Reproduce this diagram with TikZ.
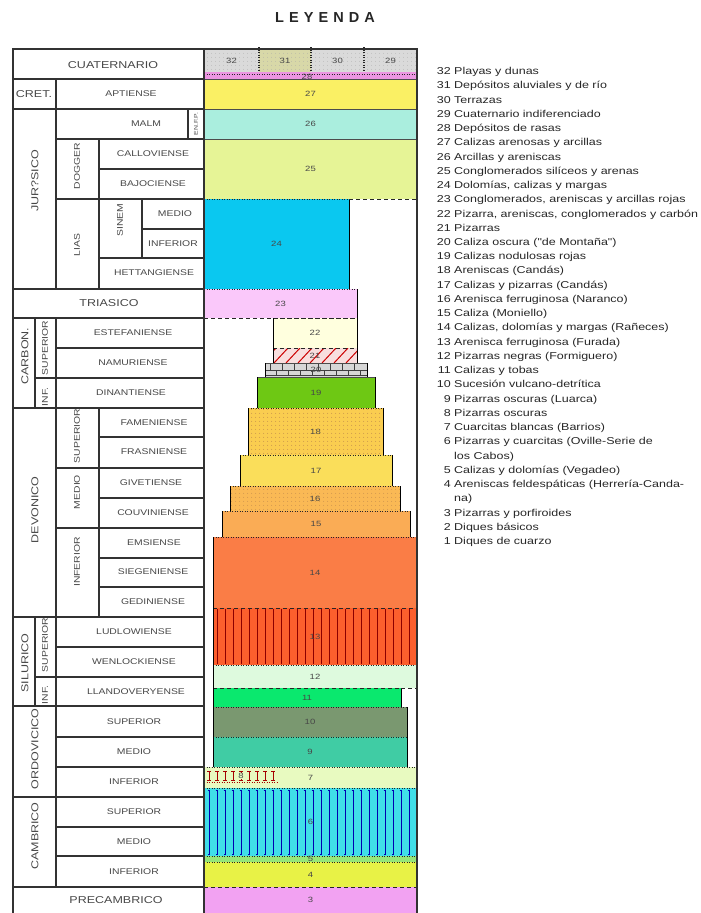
\documentclass[tikz,border=0pt]{standalone}
\usepackage{fontspec}
\setmainfont{Liberation Sans}
\newfontfamily\wideSans[FakeStretch=1.25]{Liberation Sans}
\newfontfamily\titleSans[LetterSpace=35]{Liberation Sans}
\usetikzlibrary{patterns.meta}

\definecolor{gridGray}{RGB}{50,50,50}
\definecolor{c32}{RGB}{218,218,218}
\definecolor{c31}{RGB}{216,216,168}
\definecolor{c28}{RGB}{236,150,226}
\definecolor{c27}{RGB}{250,240,100}
\definecolor{c26}{RGB}{170,238,222}
\definecolor{c25}{RGB}{230,244,150}
\definecolor{c24}{RGB}{10,200,240}
\definecolor{c23}{RGB}{250,200,250}
\definecolor{c22}{RGB}{255,255,222}
\definecolor{c21}{RGB}{248,222,222}
\definecolor{c20}{RGB}{215,215,215}
\definecolor{c19}{RGB}{110,200,20}
\definecolor{c18}{RGB}{250,205,80}
\definecolor{c17}{RGB}{250,222,90}
\definecolor{c16}{RGB}{250,185,85}
\definecolor{c15}{RGB}{250,172,85}
\definecolor{c14}{RGB}{250,125,70}
\definecolor{c13}{RGB}{252,95,45}
\definecolor{c12}{RGB}{222,250,222}
\definecolor{c11}{RGB}{10,232,110}
\definecolor{c10}{RGB}{122,152,112}
\definecolor{c9}{RGB}{64,204,164}
\definecolor{c7}{RGB}{232,250,192}
\definecolor{c6}{RGB}{64,222,232}
\definecolor{c5}{RGB}{150,230,120}
\definecolor{c4}{RGB}{232,242,70}
\definecolor{c3}{RGB}{242,162,242}

%% unit/left/right/top/bottom/top line
\def\unitList{27/204/417/79/109/solidEdge, 26/204/417/109/139/solidEdge,
  25/204/417/139/199/solidEdge, 24/204/349/199/289/dotEdge,
  23/204/357/289/318/dotEdge, 22/273/357/318/348/dashEdge,
  21/273/357/348/363/dashEdge, 20/265/367/363/377/solidEdge,
  19/257/375/377/408/solidEdge, 18/248/383/408/455/dotEdge,
  17/240/392/455/486/dotEdge, 16/230/400/486/511/dotEdge,
  15/222/410/511/537/dotEdge, 14/213/417/537/608/dotEdge,
  13/213/417/608/665/dashEdge, 12/213/417/665/688/dotEdge,
  11/213/401/688/707/dashEdge, 10/213/407/707/737/dotEdge,
  9/213/407/737/767/dotEdge, 7/204/417/767/788/dotEdge,
  6/204/417/788/856/dotEdge, 5/204/417/856/862/dotEdge,
  4/204/417/862/887/dotEdge, 3/204/417/887/913/dashEdge}

\begin{document}
\begin{tikzpicture}
[x=1pt,y=-1pt,
  gridLine/.style={draw=gridGray,line width=1.5pt},
  eraLabel/.style={font=\wideSans\fontsize{10}{12}\selectfont,text=black!72,inner sep=0pt},
  stageLabel/.style={font=\wideSans\fontsize{8.3}{10}\selectfont,text=black!72,inner sep=0pt},
  unitLabel/.style={font=\wideSans\fontsize{7.6}{9}\selectfont,text=black!72,inner sep=0pt},
  unitSide/.style={draw=black,line width=0.8pt},
  dotEdge/.style={draw=black!85,line width=1pt,dash pattern=on 1.2pt off 1.3pt},
  dashEdge/.style={draw=black!85,line width=1pt,dash pattern=on 4pt off 3pt},
  solidEdge/.style={draw=black!70,line width=1pt},
  legendNum/.style={font=\wideSans\fontsize{10}{12}\selectfont,anchor=base east,inner sep=0pt,text=black!85},
  legendText/.style={font=\wideSans\fontsize{10}{12}\selectfont,anchor=base west,inner sep=0pt,text=black!85}]
\useasboundingbox (0,0) rectangle (701,913);

\node[font=\titleSans\bfseries\fontsize{14.5}{16}\selectfont,text=black!85] (title) at (325,18) {LEYENDA};

%% quaternary strip
\foreach \unit/\xa/\xb/\col in {32/204/259/c32, 31/259/311/c31, 30/311/364/c32, 29/364/417/c32}
{
  \fill[\col] (\xa,49) rectangle (\xb,72);
  \fill[pattern={Dots[distance=4pt,radius=0.45pt]},pattern color=black!35] (\xa,49) rectangle (\xb,72);
  \node[unitLabel] (u\unit) at ({(\xa+\xb)/2},61) {\unit};
}
\foreach \x in {259,311,364}
  \draw[dotEdge,line width=1.3pt] (\x,47) -- (\x,74);
\fill[c28] (204,72) rectangle (417,79);
\draw[dotEdge] (204,74) -- (417,74);
\node[unitLabel] (u28) at (307,77) {28};

%% units of the column
\foreach \unit/\xa/\xb/\ya/\yb/\topLine in \unitList
  \fill[c\unit] (\xa,\ya) rectangle (\xb,\yb);

%% textures
\foreach \xa/\xb/\ya/\yb in {248/383/409/454, 230/400/487/510}
  \fill[pattern={Dots[distance=4pt,radius=0.5pt]},pattern color=orange!60!black!70] (\xa,\ya) rectangle (\xb,\yb);
\foreach \x in {217,225,...,413}
  \draw[red!55!black,line width=0.9pt] (\x,609) -- (\x,664);
\foreach \x in {209,217,...,413}
  \draw[blue!70!black,line width=1pt] (\x-1.5,790) -- (\x,790) -- (\x,854) -- (\x-1.5,854);
\begin{scope}
  \clip (273,348) rectangle (357,363);
  \foreach \x in {262,274,...,362}
    \draw[red!80!black,line width=1pt] (\x,363) -- (\x+14,348);
\end{scope}
\draw[black!75,line width=0.7pt] (265,370) -- (367,370) (265,375) -- (367,375);
\foreach \x in {270,282,...,362}
  \draw[black!75,line width=0.7pt] (\x,364) -- (\x,370) (\x+6,370) -- (\x+6,376);
%% unit 8 inside unit 7
\foreach \x in {209,217,...,273}
  \draw[red!65!black,line width=0.8pt] (\x-2,771) -- (\x+2,771) (\x,771) -- (\x,780) (\x-2,780) -- (\x+2,780);
\draw[dotEdge,red!65!black] (204,782) -- (277,782);

%% unit borders
\foreach \unit/\xa/\xb/\ya/\yb/\topLine in \unitList
{
  \draw[\topLine] (\xa,\ya) -- (\xb,\ya);
  \draw[unitSide] (\xa,\ya) -- (\xa,\yb) (\xb,\ya) -- (\xb,\yb);
}
\draw[dashEdge] (204,318) -- (357,318);
\draw[dashEdge] (349,199) -- (417,199);
\draw[dashEdge] (401,688) -- (417,688);

%% unit numbers
\foreach \unit/\xa/\xb/\ya/\yb/\topLine in \unitList
  \node[unitLabel] (u\unit) at ({(\xa+\xb)/2},{(\ya+\yb)/2}) {\unit};
\node[unitLabel,fill=c7,inner sep=0.5pt] (u8) at (241,776) {8};

%% table grid
\foreach \xa/\xb/\y in {13/204/79, 13/204/109, 56/204/139, 99/204/169, 56/204/199,
  142/204/229, 99/204/258, 13/204/289, 13/204/318, 56/204/348, 35/204/378,
  13/204/408, 99/204/437, 56/204/468, 99/204/498, 56/204/528, 99/204/558,
  99/204/587, 13/204/617, 56/204/647, 35/204/677, 13/204/706, 56/204/737,
  56/204/767, 13/204/797, 56/204/827, 56/204/856, 13/204/887}
  \draw[gridLine] (\xa,\y) -- (\xb,\y);
\foreach \x/\ya/\yb in {56/79/289, 56/318/887, 188/109/139, 99/139/289,
  142/199/258, 35/318/408, 99/408/617, 35/617/706}
  \draw[gridLine] (\x,\ya) -- (\x,\yb);
\draw[gridLine] (13,913) -- (13,49) -- (417,49) -- (417,913);
\draw[gridLine] (204,49) -- (204,913);

%% periods
\foreach \name/\x/\y/\txt in {cuat/113/65/CUATERNARIO, cret/34/94/CRET.,
  tria/109/303/TRIASICO, prec/116/900/PRECAMBRICO}
  \node[eraLabel] (\name) at (\x,\y) {\txt};
\foreach \name/\x/\y/\txt in {jura/35/181/JUR?SICO, carb/25/356/CARBON.,
  devo/35/510/DEVONICO, silu/25/663/SILURICO, ordo/35/749/ORDOVICICO,
  camb/35/836/CAMBRICO}
  \node[eraLabel,rotate=90] (\name) at (\x,\y) {\txt};

%% stages
\foreach \name/\x/\y/\txt in {apti/131/94/APTIENSE, malm/146/124/MALM,
  callo/153/154/CALLOVIENSE, bajo/153/184/BAJOCIENSE, liasM/175/214/MEDIO,
  liasI/173/244/INFERIOR, hett/154/273/HETTANGIENSE, este/133/333/ESTEFANIENSE,
  namu/133/363/NAMURIENSE, dina/131/393/DINANTIENSE, fame/154/423/FAMENIENSE,
  fras/154/452/FRASNIENSE, give/151/483/GIVETIENSE, couv/153/513/COUVINIENSE,
  emsi/154/543/EMSIENSE, sieg/153/572/SIEGENIENSE, gedi/153/602/GEDINIENSE,
  ludl/134/632/LUDLOWIENSE, wenl/134/662/WENLOCKIENSE, llan/136/692/LLANDOVERYENSE,
  ordS/134/722/SUPERIOR, ordM/134/752/MEDIO, ordI/134/782/INFERIOR,
  camS/134/812/SUPERIOR, camM/134/842/MEDIO, camI/134/872/INFERIOR}
  \node[stageLabel] (\name) at (\x,\y) {\txt};
\foreach \name/\x/\y/\txt in {dogg/77/166/DOGGER, lias/77/245/LIAS, sinem/120/220/SINEM,
  carS/45/348/SUPERIOR, carI/45/397/INF., devS/77/436/SUPERIOR, devM/77/492/MEDIO,
  devI/77/562/INFERIOR, silS/45/645/SUPERIOR, silI/45/695/INF.}
  \node[stageLabel,rotate=90] (\name) at (\x,\y) {\txt};
\node[stageLabel,rotate=90,font=\wideSans\fontsize{5.5}{6}\selectfont] (enfp) at (196,124) {EN.F.P.};

%% legend
\foreach \num/\txt [count=\k from 0] in {32/Playas y dunas, 31/Depósitos aluviales y de río,
  30/Terrazas, 29/Cuaternario indiferenciado, 28/Depósitos de rasas,
  27/Calizas arenosas y arcillas, 26/Arcillas y areniscas,
  25/Conglomerados silíceos y arenas, {24/Dolomías, calizas y margas},
  {23/Conglomerados, areniscas y arcillas rojas},
  {22/Pizarra, areniscas, conglomerados y carbón}, 21/Pizarras,
  20/Caliza oscura ("de Montaña"), 19/Calizas nodulosas rojas,
  18/Areniscas (Candás), 17/Calizas y pizarras (Candás),
  16/Arenisca ferruginosa (Naranco), 15/Caliza (Moniello),
  {14/Calizas, dolomías y margas (Rañeces)}, 13/Arenisca ferruginosa (Furada),
  12/Pizarras negras (Formiguero), 11/Calizas y tobas,
  10/Sucesión vulcano-detrítica, 9/Pizarras oscuras (Luarca), 8/Pizarras oscuras,
  7/Cuarcitas blancas (Barrios), 6/Pizarras y cuarcitas (Oville-Serie de,
  /los Cabos), 5/Calizas y dolomías (Vegadeo),
  4/Areniscas feldespáticas (Herrería-Canda-, /na), 3/Pizarras y porfiroides,
  2/Diques básicos, 1/Diques de cuarzo}
{
  \node[legendNum] (num\k) at (451,{71+14.24*\k+3.6}) {\num};
  \node[legendText] (leg\k) at (454,{71+14.24*\k+3.6}) {\txt};
}
\end{tikzpicture}
\end{document}
